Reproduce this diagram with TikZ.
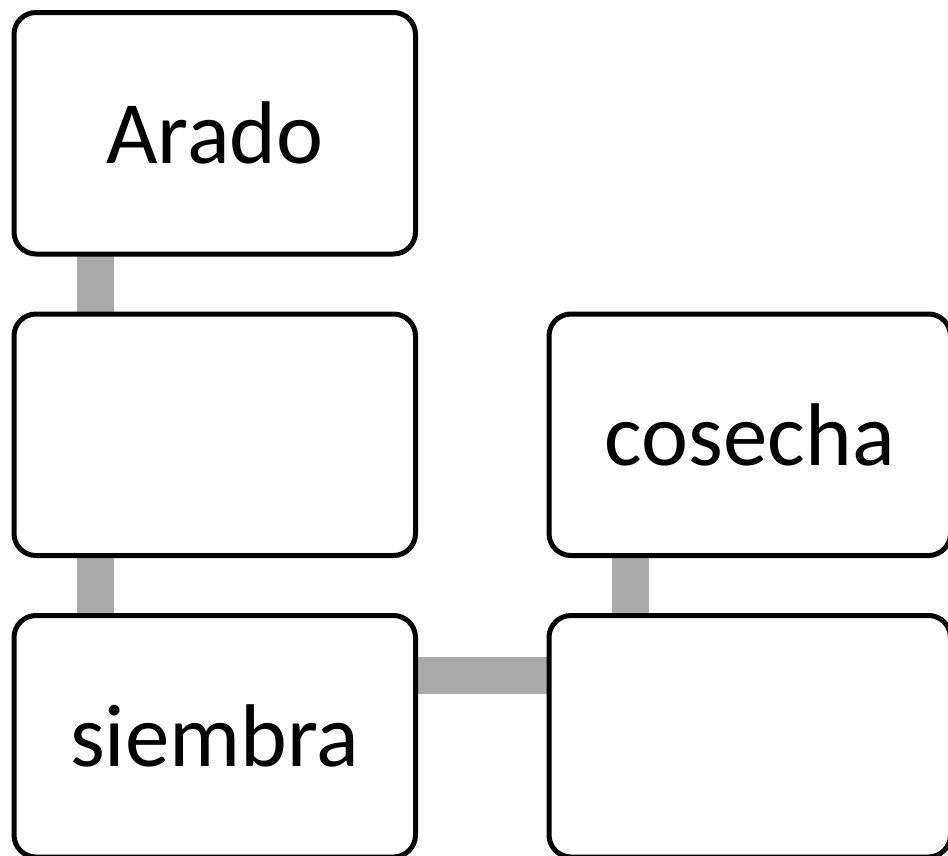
\documentclass[tikz,border=0pt]{standalone}
\usepackage{fontspec}
\setmainfont{Carlito}
\usetikzlibrary{backgrounds}
\definecolor{bargray}{HTML}{AAAAAA}
\tikzset{
  stepbox/.style={draw=black, line width=5pt, rounded corners=22pt, fill=white,
    minimum width=401.5pt, minimum height=241.5pt, inner sep=0pt, outer sep=0pt,
    font=\fontsize{89}{107}\selectfont},
  bar/.style={draw=bargray, line width=37pt}
}
\begin{document}
\begin{tikzpicture}[x=1pt,y=1pt]
\useasboundingbox (0,0) rectangle (948,-855);
\clip (0,0) rectangle (948,-855);
\node[stepbox] (a) at (214.75,-133.25) {Arado};
\node[stepbox] (b) at (214.75,-434.75) {};
\node[stepbox] (c) at (214.75,-736.25) {siembra};
\node[stepbox] (d) at (749.75,-736.25) {};
\node[stepbox] (e) at (749.75,-434.75) {cosecha};
\begin{scope}[on background layer]
\draw[bar] ([xshift=81.5pt]a.south west) -- ([xshift=81.5pt]b.north west);
\draw[bar] ([xshift=81.5pt]b.south west) -- ([xshift=81.5pt]c.north west);
\draw[bar] ([yshift=-60pt]c.north east) -- ([yshift=-60pt]d.north west);
\draw[bar] ([xshift=81.5pt]d.north west) -- ([xshift=81.5pt]e.south west);
\end{scope}
\end{tikzpicture}
\end{document}
